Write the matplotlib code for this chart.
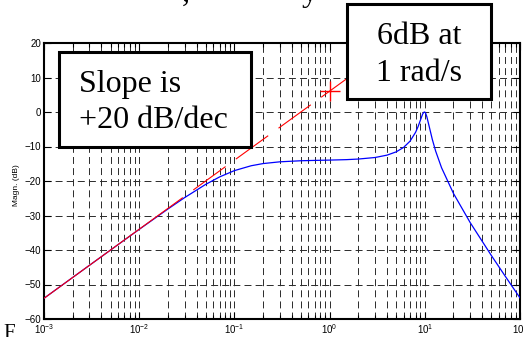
import matplotlib
matplotlib.use("Agg")
import matplotlib.pyplot as plt
from matplotlib.patches import Rectangle
from matplotlib.ticker import LogLocator, NullFormatter

# ---- data ----
freq = [0.001, 0.002, 0.005, 0.01, 0.02, 0.03, 0.05, 0.07, 0.1, 0.15, 0.2, 0.3,
        0.5, 0.7, 1, 1.5, 2, 3, 4, 5, 6, 7, 8, 8.5, 9, 9.5, 9.8, 10, 10.2, 10.5,
        11, 12, 13, 15, 20, 30, 50, 70, 100]
mag_db = [-54.0, -47.96, -40.01, -34.02, -28.13, -24.81, -20.97, -18.81, -16.99,
          -15.58, -14.95, -14.44, -14.13, -14.03, -13.94, -13.81, -13.64, -13.19,
          -12.51, -11.56, -10.25, -8.45, -5.89, -4.23, -2.34, -0.57, -0.05, 0.0,
          -0.34, -1.35, -3.64, -7.98, -11.33, -16.16, -23.6, -32.07, -41.59,
          -47.61, -53.89]
asym_solid_w = [0.001, 0.0284]
asym_solid_db = [-54.0, -24.9]
asym_dash_w = [0.037, 2.5]
asym_dash_db = [-22.6, 14.0]
mark_w = [1]
mark_db = [6.02]
yticks = [-60, -50, -40, -30, -20, -10, 0, 10, 20]

plt.rcParams['lines.scale_dashes'] = False
plt.rcParams['mathtext.fontset'] = 'custom'
plt.rcParams['mathtext.rm'] = 'Liberation Sans'
plt.rcParams['mathtext.it'] = 'Liberation Sans:italic'
plt.rcParams['mathtext.bf'] = 'Liberation Sans:bold'

W, H = 523, 337
fig = plt.figure(figsize=(W / 100, H / 100), dpi=100)
L, R, T, B = 44, 520, 43, 319
ax = fig.add_axes([L / W, 1 - B / H, (R - L) / W, (B - T) / H])
ax.set_xscale('log')
ax.set_xlim(1e-3, 1e2)
ax.set_ylim(-60, 20)
ax.set_yticks(yticks)
ax.xaxis.set_minor_locator(LogLocator(base=10, subs=range(2, 10), numticks=20))
ax.xaxis.set_minor_formatter(NullFormatter())

gstyle = dict(color='#2a2a2a', linewidth=0.7, linestyle=(0, (5, 3)))
ax.grid(True, which='major', axis='both', **gstyle)
ax.grid(True, which='minor', axis='x', **gstyle)
ax.set_axisbelow(True)

ax.plot(freq, mag_db, color='#0000ff', linewidth=0.9, zorder=3)
ax.plot(asym_solid_w, asym_solid_db, color='red', linewidth=0.8, zorder=4)
ax.plot(asym_dash_w, asym_dash_db, color='red', linewidth=0.8,
        linestyle=(0, (28.7, 9.2)), zorder=4)
ax.plot(mark_w, mark_db, '+', color='red', markersize=15, markeredgewidth=1.0,
        zorder=5)

for s in ax.spines.values():
    s.set_linewidth(1.5)
ax.tick_params(which='both', direction='in', top=True, right=True,
               labelsize=7, width=0.8, pad=2)
ax.tick_params(which='major', length=5)
ax.tick_params(which='minor', length=3)
for lab in ax.get_xticklabels() + ax.get_yticklabels():
    lab.set_fontfamily('Liberation Sans')

fig.text(17 / W, 1 - 185 / H, 'Magn. (dB)', rotation=90, ha='center',
         va='center', fontsize=6, family='Liberation Sans')

serif = dict(family='Liberation Serif', fontsize=23, zorder=11)

def box(x0, y0, x1, y1):
    fig.add_artist(Rectangle((x0 / W, 1 - y1 / H), (x1 - x0) / W, (y1 - y0) / H,
                             transform=fig.transFigure, facecolor='white',
                             edgecolor='black', linewidth=2.2, zorder=10))

box(59, 52, 251, 147)
fig.text(79 / W, 1 - 92 / H, 'Slope is', ha='left', va='baseline', **serif)
fig.text(79 / W, 1 - 128 / H, '+20 dB/dec', ha='left', va='baseline', **serif)

box(347, 4, 491, 99)
fig.text(419 / W, 1 - 44 / H, '6dB at', ha='center', va='baseline', **serif)
fig.text(419 / W, 1 - 81 / H, '1 rad/s', ha='center', va='baseline', **serif)

# fragments of surrounding slide text
fig.text(182 / W, 1 - 1 / H, ',', ha='left', va='baseline', **serif)
fig.text(302 / W, 1 - 1 / H, 'y', ha='left', va='baseline', **serif)
fig.text(3 / W, 1 - 338 / H, 'F', ha='left', va='baseline',
         family='Liberation Serif', fontsize=15)

fig.savefig('out.png', dpi=100)
